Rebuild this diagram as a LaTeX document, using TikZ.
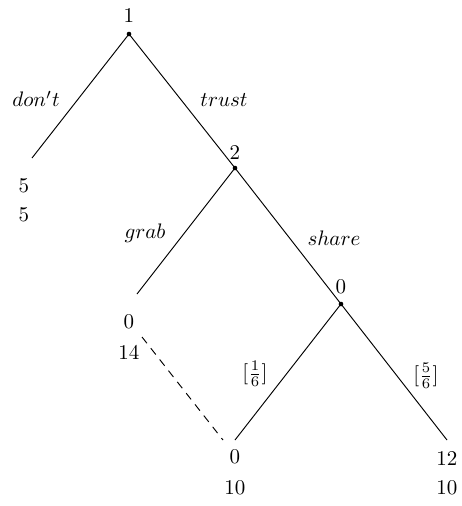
\documentclass[tikz,border=0pt]{standalone}
\begin{document}
\begin{tikzpicture}[x=0.476pt,y=-0.476pt,
  vert/.style={circle,fill=black,inner sep=0pt,minimum size=2.2pt},
  leafpt/.style={coordinate},
  lbl/.style={inner sep=0pt},
  edge/.style={line width=0.45pt}]
\useasboundingbox (0,0) rectangle (462,506);
% vertices
\node[vert] (r) at (129,34) {};
\node[vert] (n2) at (235,168) {};
\node[vert] (n0) at (341,304) {};
\coordinate (l1) at (32,158);
\coordinate (l2) at (137,294);
\coordinate (l3) at (235,440);
\coordinate (l4) at (447,440);
% edges
\draw[edge] (r.center) -- (l1);
\draw[edge] (r.center) -- (n2.center);
\draw[edge] (n2.center) -- (l2);
\draw[edge] (n2.center) -- (n0.center);
\draw[edge] (n0.center) -- (l3);
\draw[edge] (n0.center) -- (l4);
% player labels
\node[lbl] (p1) at (129,15) {1};
\node[lbl] (p2) at (235,152) {2};
\node[lbl] (p0) at (341,287) {0};
% action labels
\node[lbl] (a1) at (36,99) {$don't$};
\node[lbl] (a2) at (224,100) {$trust$};
\node[lbl] (a3) at (145,233) {$grab$};
\node[lbl] (a4) at (334,238) {$share$};
\node[lbl] (a5) at (255,374) {$[\frac{1}{6}]$};
\node[lbl] (a6) at (426,376) {$[\frac{5}{6}]$};
% payoffs
\node[lbl] (u1a) at (24,186) {5};
\node[lbl] (u1b) at (24,215) {5};
\node[lbl] (u2a) at (129,322) {0};
\node[lbl] (u2b) at (129,352) {14};
\node[lbl] (u3a) at (235,457) {0};
\node[lbl] (u3b) at (235,488) {10};
\node[lbl] (u4a) at (447,458) {12};
\node[lbl] (u4b) at (447,488) {10};
% information set
\coordinate (d1) at (142,337);
\coordinate (d2) at (223,440);
\draw[edge,dash pattern=on 3.8pt off 3pt] (d1) -- (d2);
\end{tikzpicture}
\end{document}
